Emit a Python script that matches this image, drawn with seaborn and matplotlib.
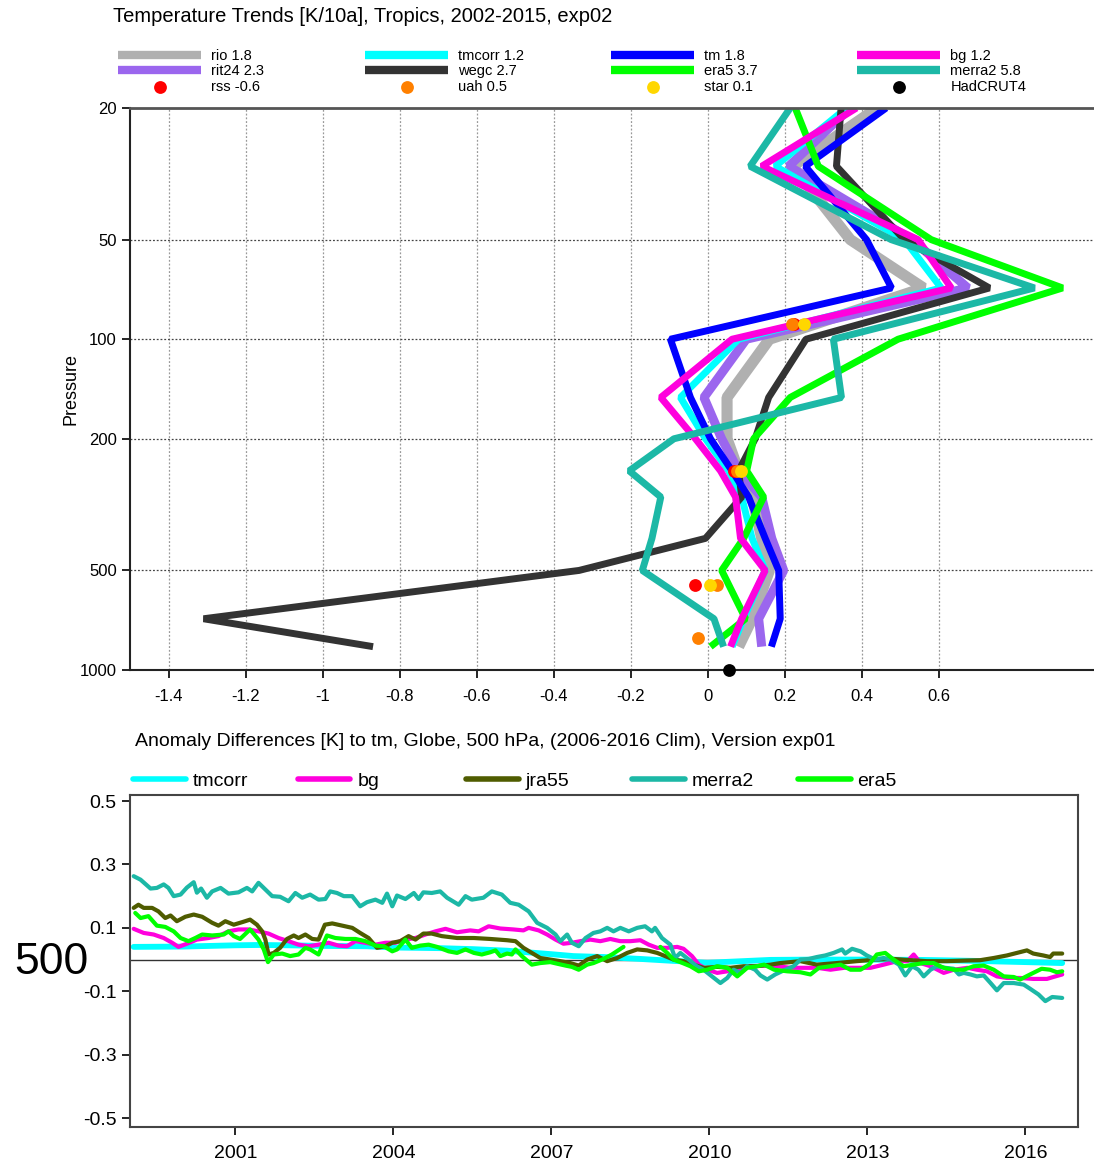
import numpy as np
import pandas as pd
import matplotlib
matplotlib.use("Agg")
import matplotlib.pyplot as plt
import seaborn as sns

# top panel: trend profiles [K/10a] on pressure levels
levels = [20, 30, 50, 70, 100, 150, 200, 250, 300, 400, 500, 700, 850]
rio = [0.44, 0.22, 0.37, 0.56, 0.16, 0.05, 0.05, 0.08, 0.115, 0.14, 0.16, 0.115, 0.08]
rit24 = [0.37, 0.21, 0.53, 0.675, 0.10, -0.01, 0.036, 0.08, 0.14, 0.166, 0.197, 0.132, 0.14]
tmcorr = [0.36, 0.175, 0.51, 0.606, 0.08, -0.071, -0.006, 0.054, 0.088, 0.115, 0.149, 0.093, 0.063]
wegc = [0.346, 0.334, 0.51, 0.731, 0.255, 0.158, 0.123, 0.080, 0.088, -0.006, -0.334, -1.309, -0.869]
tm = [0.463, 0.253, 0.412, 0.477, -0.097, -0.045, 0.007, 0.063, 0.106, 0.149, 0.184, 0.188, 0.165]
era5 = [0.227, 0.287, 0.58, 0.921, 0.494, 0.214, 0.119, 0.101, 0.145, 0.093, 0.036, 0.098, 0.007]
bg = [0.386, 0.140, 0.546, 0.632, 0.063, -0.122, -0.032, 0.033, 0.072, 0.085, 0.149, 0.088, 0.059]
merra2 = [0.214, 0.110, 0.476, 0.848, 0.326, 0.347, -0.088, -0.204, -0.122, -0.145, -0.17, 0.016, 0.041]

# satellite / surface points
rss_p = [90, 250, 553]
rss_x = [0.225, 0.067, -0.032]
uah_p = [90, 250, 553, 800]
uah_x = [0.218, 0.075, 0.024, -0.026]
star_p = [90, 250, 553]
star_x = [0.25, 0.085, 0.005]
had_p = [1000]
had_x = [0.054]

profile_names = ["rio", "rit24", "tmcorr", "wegc", "tm", "era5", "bg", "merra2"]
profile_vals = [rio, rit24, tmcorr, wegc, tm, era5, bg, merra2]
profile_labels = ["rio 1.8", "rit24 2.3", "tmcorr 1.2", "wegc 2.7", "tm 1.8", "era5 3.7", "bg 1.2", "merra2 5.8"]
profile_colors = ["#b0b0b0", "#9b66ee", "#00ffff", "#333333", "#0000ff", "#00ff00", "#ff00dd", "#1cb8a6"]
profile_lw = [8, 6.5, 5, 5, 5, 5, 5, 5]

# bottom panel: anomaly differences at 500 hPa
t_merra2 = [1999.07, 1999.2, 1999.39, 1999.51, 1999.64, 1999.73, 1999.83, 1999.96, 2000.08, 2000.21,
            2000.27, 2000.35, 2000.46, 2000.56, 2000.72, 2000.87, 2001.06, 2001.22, 2001.32, 2001.44,
            2001.57, 2001.70, 2001.85, 2002.01, 2002.14, 2002.27, 2002.42, 2002.58, 2002.71, 2002.80,
            2002.93, 2003.06, 2003.22, 2003.37, 2003.50, 2003.66, 2003.79, 2003.88, 2003.98, 2004.07,
            2004.23, 2004.39, 2004.48, 2004.57, 2004.73, 2004.89, 2005.02, 2005.18, 2005.24, 2005.37,
            2005.49, 2005.71, 2005.87, 2006.06, 2006.22, 2006.38, 2006.57, 2006.73, 2006.92, 2007.08,
            2007.17, 2007.30, 2007.39, 2007.52, 2007.65, 2007.80, 2007.93, 2008.06, 2008.18, 2008.31,
            2008.47, 2008.63, 2008.78, 2008.91, 2008.97, 2009.10, 2009.26, 2009.35, 2009.45, 2009.61,
            2009.76, 2009.89, 2010.05, 2010.21, 2010.34, 2010.46, 2010.59, 2010.72, 2010.87, 2010.97,
            2011.10, 2011.25, 2011.44, 2011.60, 2011.73, 2011.89, 2012.04, 2012.20, 2012.36, 2012.52,
            2012.58, 2012.71, 2012.87, 2012.99, 2013.15, 2013.31, 2013.44, 2013.60, 2013.72, 2013.85,
            2013.97, 2014.07, 2014.20, 2014.32, 2014.48, 2014.64, 2014.74, 2014.83, 2014.96, 2015.08,
            2015.21, 2015.34, 2015.46, 2015.59, 2015.78, 2015.97, 2016.09, 2016.25, 2016.38, 2016.51,
            2016.70]
v_merra2 = [0.263, 0.252, 0.224, 0.226, 0.237, 0.226, 0.200, 0.205, 0.227, 0.244,
            0.211, 0.224, 0.195, 0.215, 0.226, 0.208, 0.212, 0.226, 0.215, 0.242,
            0.221, 0.200, 0.198, 0.184, 0.210, 0.195, 0.205, 0.189, 0.191, 0.215,
            0.210, 0.200, 0.200, 0.168, 0.181, 0.189, 0.179, 0.208, 0.168, 0.202,
            0.191, 0.210, 0.191, 0.212, 0.210, 0.215, 0.195, 0.179, 0.173, 0.200,
            0.189, 0.195, 0.215, 0.205, 0.179, 0.173, 0.152, 0.116, 0.100, 0.079,
            0.058, 0.079, 0.053, 0.042, 0.068, 0.084, 0.089, 0.100, 0.089, 0.100,
            0.089, 0.100, 0.105, 0.089, 0.100, 0.068, 0.047, 0.005, 0.021, 0.000,
            -0.021, -0.032, -0.053, -0.074, -0.058, -0.032, -0.042, -0.021, -0.032, -0.050,
            -0.063, -0.047, -0.032, -0.021, 0.000, 0.002, 0.008, 0.013, 0.021, 0.032,
            0.019, 0.034, 0.026, 0.013, 0.000, 0.005, 0.000, -0.016, -0.050, -0.021,
            -0.032, -0.053, -0.032, -0.021, -0.026, -0.029, -0.047, -0.042, -0.047, -0.053,
            -0.050, -0.074, -0.097, -0.074, -0.074, -0.079, -0.092, -0.110, -0.131, -0.118,
            -0.121]

t_bg = [1999.07, 1999.26, 1999.45, 1999.64, 1999.80, 1999.92, 2000.08, 2000.27, 2000.49, 2000.68,
        2000.87, 2001.06, 2001.25, 2001.44, 2001.63, 2001.82, 2002.01, 2002.20, 2002.39, 2002.58,
        2002.77, 2002.96, 2003.12, 2003.28, 2003.47, 2003.66, 2003.85, 2004.04, 2004.23, 2004.42,
        2004.61, 2004.80, 2004.99, 2005.21, 2005.46, 2005.62, 2005.81, 2006.03, 2006.28, 2006.47,
        2006.57, 2006.76, 2006.92, 2007.08, 2007.23, 2007.39, 2007.55, 2007.74, 2007.93, 2008.12,
        2008.31, 2008.50, 2008.69, 2008.85, 2009.01, 2009.20, 2009.39, 2009.51, 2009.67, 2009.80,
        2009.96, 2010.15, 2010.34, 2010.53, 2010.78, 2011.04, 2011.29, 2011.54, 2011.80, 2012.05,
        2012.30, 2012.56, 2012.81, 2013.06, 2013.31, 2013.57, 2013.76, 2013.88, 2014.01, 2014.20,
        2014.45, 2014.64, 2014.90, 2015.08, 2015.27, 2015.46, 2015.65, 2015.90, 2016.15, 2016.41,
        2016.53, 2016.70]
v_bg = [0.097, 0.084, 0.079, 0.068, 0.053, 0.040, 0.050, 0.063, 0.068, 0.074,
        0.089, 0.095, 0.095, 0.089, 0.082, 0.068, 0.058, 0.047, 0.042, 0.047,
        0.053, 0.044, 0.042, 0.058, 0.053, 0.047, 0.053, 0.053, 0.063, 0.068,
        0.079, 0.089, 0.097, 0.086, 0.092, 0.089, 0.105, 0.098, 0.095, 0.092,
        0.100, 0.092, 0.079, 0.063, 0.050, 0.053, 0.058, 0.063, 0.058, 0.065,
        0.058, 0.058, 0.061, 0.047, 0.037, 0.037, 0.040, 0.034, 0.011, -0.016,
        -0.032, -0.042, -0.037, -0.032, -0.021, -0.019, -0.021, -0.026, -0.026, -0.026,
        -0.032, -0.026, -0.026, -0.026, -0.016, -0.005, -0.005, 0.016, -0.011, -0.021,
        -0.042, -0.032, -0.026, -0.032, -0.037, -0.053, -0.058, -0.058, -0.061, -0.061,
        -0.055, -0.047]

t_tmcorr = [1999.07, 2000.0, 2001.0, 2001.44, 2002.0, 2002.71, 2003.5, 2004.0, 2004.89, 2005.5,
            2006.16, 2007.0, 2007.42, 2008.0, 2008.69, 2009.3, 2009.96, 2010.5, 2011.16, 2012.0,
            2013.0, 2014.0, 2015.0, 2016.0, 2016.70]
v_tmcorr = [0.040, 0.041, 0.045, 0.046, 0.045, 0.043, 0.042, 0.038, 0.036, 0.033,
            0.028, 0.017, 0.011, 0.008, 0.002, -0.004, -0.010, -0.006, -0.001, 0.000,
            0.000, -0.001, -0.004, -0.008, -0.011]

t_jra55 = [1999.07, 1999.16, 1999.26, 1999.42, 1999.54, 1999.67, 1999.77, 1999.89, 2000.05, 2000.21,
           2000.37, 2000.56, 2000.68, 2000.81, 2000.97, 2001.13, 2001.28, 2001.41, 2001.51, 2001.57,
           2001.63, 2001.73, 2001.85, 2001.98, 2002.11, 2002.20, 2002.33, 2002.46, 2002.58, 2002.70,
           2002.84, 2003.03, 2003.22, 2003.37, 2003.53, 2003.69, 2003.85, 2003.98, 2004.13, 2004.29,
           2004.42, 2004.57, 2004.73, 2004.92, 2005.21, 2005.53, 2005.84, 2006.16, 2006.32, 2006.47,
           2006.63, 2006.79, 2006.98, 2007.17, 2007.36, 2007.52, 2007.68, 2007.87, 2008.06, 2008.25,
           2008.44, 2008.63, 2008.82, 2009.01, 2009.16, 2009.32, 2009.51, 2009.70, 2009.89, 2010.15,
           2010.40, 2010.65, 2010.90, 2011.16, 2011.35, 2011.73, 2012.04, 2012.42, 2012.80, 2013.18,
           2013.50, 2013.82, 2014.13, 2014.51, 2014.89, 2015.14, 2015.40, 2015.65, 2015.84, 2016.03,
           2016.15, 2016.34, 2016.47, 2016.53, 2016.70]
v_jra55 = [0.163, 0.173, 0.163, 0.163, 0.152, 0.131, 0.139, 0.121, 0.135, 0.142,
           0.135, 0.116, 0.107, 0.121, 0.110, 0.118, 0.126, 0.110, 0.089, 0.063,
           0.016, 0.021, 0.037, 0.065, 0.076, 0.068, 0.079, 0.065, 0.063, 0.110,
           0.114, 0.107, 0.100, 0.084, 0.068, 0.037, 0.042, 0.053, 0.058, 0.074,
           0.063, 0.082, 0.082, 0.074, 0.068, 0.068, 0.065, 0.061, 0.058, 0.037,
           0.021, 0.005, 0.000, -0.005, -0.011, -0.019, 0.000, 0.011, -0.005, 0.005,
           0.021, 0.032, 0.029, 0.021, 0.011, 0.000, -0.005, -0.016, -0.026, -0.023,
           -0.026, -0.021, -0.021, -0.016, -0.011, -0.005, -0.016, -0.011, -0.005, 0.000,
           0.002, -0.002, -0.005, -0.005, -0.003, -0.002, 0.005, 0.013, 0.021, 0.029,
           0.019, 0.013, 0.008, 0.019, 0.019]

# era5 has a data gap in 2008/2009, kept as two pieces
t_era5_a = [1999.10, 1999.20, 1999.35, 1999.51, 1999.67, 1999.83, 1999.96, 2000.11, 2000.24, 2000.37,
            2000.56, 2000.78, 2000.87, 2000.97, 2001.09, 2001.28, 2001.44, 2001.54, 2001.62, 2001.73,
            2001.89, 2002.04, 2002.20, 2002.33, 2002.42, 2002.58, 2002.74, 2002.90, 2003.09, 2003.28,
            2003.47, 2003.66, 2003.82, 2003.98, 2004.07, 2004.23, 2004.35, 2004.51, 2004.67, 2004.83,
            2005.05, 2005.21, 2005.37, 2005.53, 2005.68, 2005.84, 2005.94, 2006.03, 2006.16, 2006.25,
            2006.32, 2006.44, 2006.63, 2006.79, 2006.98, 2007.11, 2007.27, 2007.39, 2007.52, 2007.68,
            2007.80, 2007.99, 2008.15, 2008.37]
v_era5_a = [0.147, 0.131, 0.137, 0.107, 0.103, 0.089, 0.068, 0.058, 0.068, 0.079,
            0.076, 0.079, 0.089, 0.074, 0.065, 0.095, 0.063, 0.032, -0.008, 0.016,
            0.019, 0.011, 0.016, 0.037, 0.032, 0.016, 0.076, 0.068, 0.065, 0.065,
            0.058, 0.044, 0.042, 0.026, 0.032, 0.063, 0.037, 0.044, 0.047, 0.040,
            0.026, 0.021, 0.032, 0.021, 0.016, 0.023, 0.029, 0.011, 0.019, 0.016,
            0.032, 0.011, -0.016, -0.011, -0.008, -0.013, -0.019, -0.023, -0.032, -0.016,
            -0.011, 0.002, 0.016, 0.040]
t_era5_b = [2009.07, 2009.20, 2009.32, 2009.45, 2009.64, 2009.80, 2009.96, 2010.15, 2010.34, 2010.53,
            2010.72, 2010.90, 2011.04, 2011.23, 2011.48, 2011.73, 2011.92, 2012.08, 2012.30, 2012.49,
            2012.68, 2012.87, 2013.03, 2013.18, 2013.34, 2013.50, 2013.69, 2013.88, 2014.07, 2014.26,
            2014.45, 2014.64, 2014.83, 2015.02, 2015.21, 2015.40, 2015.59, 2015.78, 2015.90, 2016.09,
            2016.31, 2016.47, 2016.60, 2016.70]
v_era5_b = [0.040, 0.021, 0.000, -0.008, -0.021, -0.037, -0.032, -0.021, -0.026, -0.053,
            -0.026, -0.021, -0.016, -0.032, -0.037, -0.040, -0.047, -0.026, -0.021, -0.016,
            -0.032, -0.032, -0.016, 0.016, 0.021, 0.000, -0.021, -0.016, -0.011, -0.011,
            -0.026, -0.032, -0.032, -0.021, -0.019, -0.032, -0.053, -0.055, -0.063, -0.047,
            -0.029, -0.032, -0.040, -0.037]

sns.set_style("ticks")
plt.rcParams["font.family"] = ["Liberation Sans", "DejaVu Sans"]
plt.rcParams["text.color"] = "black"
plt.rcParams["axes.labelcolor"] = "black"
plt.rcParams["xtick.color"] = "black"
plt.rcParams["ytick.color"] = "black"

fig = plt.figure(figsize=(10.94, 11.68), dpi=100)

# ---------- top panel ----------
ax = fig.add_axes([130 / 1094, 1 - 670 / 1168, 963 / 1094, 562 / 1168])
for name, vals, lab, col, lw in zip(profile_names, profile_vals, profile_labels, profile_colors, profile_lw):
    df = pd.DataFrame({"trend": vals, "p": levels})
    sns.lineplot(data=df, x="trend", y="p", sort=False, estimator=None, orient="y",
                 color=col, lw=lw, label=lab, ax=ax, solid_joinstyle="bevel", solid_capstyle="butt")

for xs, ps, col, lab in [(rss_x, rss_p, "#ff0000", "rss -0.6"),
                         (uah_x, uah_p, "#ff8000", "uah 0.5"),
                         (star_x, star_p, "#ffd700", "star 0.1"),
                         (had_x, had_p, "#000000", "HadCRUT4")]:
    sns.scatterplot(x=xs, y=ps, color=col, s=85, linewidth=0, label=lab, ax=ax, zorder=5, clip_on=False)

ax.set_yscale("log")
ax.set_ylim(1000, 20)
ax.set_xlim(-1.5, 1.0)
ax.set_yticks([20, 50, 100, 200, 500, 1000])
ax.set_yticklabels(["20", "50", "100", "200", "500", "1000"])
ax.yaxis.set_minor_locator(matplotlib.ticker.NullLocator())
xt = [-1.4, -1.2, -1.0, -0.8, -0.6, -0.4, -0.2, 0.0, 0.2, 0.4, 0.6]
ax.set_xticks(xt)
ax.set_xticklabels(["-1.4", "-1.2", "-1", "-0.8", "-0.6", "-0.4", "-0.2", "0", "0.2", "0.4", "0.6"])
ax.tick_params(axis="both", labelsize=12, length=6, width=1.2, direction="out", color="black")
ax.tick_params(axis="x", pad=8)
ax.set_xlabel("")
ax.set_ylabel("Pressure", fontsize=13, labelpad=0)
for x in xt:
    ax.axvline(x, color="#999999", lw=0.9, ls=(0, (1.5, 1.5)), zorder=0)
for p in [50, 100, 200, 500]:
    ax.axhline(p, color="#444444", lw=0.9, ls=(0, (1.5, 1.5)), zorder=0)
ax.spines["right"].set_visible(False)
ax.spines["top"].set_color("#555555")
ax.spines["top"].set_linewidth(2)
ax.spines["left"].set_color("#222222")
ax.spines["left"].set_linewidth(1.5)
ax.spines["bottom"].set_color("#222222")
ax.spines["bottom"].set_linewidth(1.5)

handles, labels = ax.get_legend_handles_labels()
hmap = dict(zip(labels, handles))
if ax.get_legend() is not None:
    ax.get_legend().remove()

top_cols = [["rio 1.8", "rit24 2.3", "rss -0.6"],
            ["tmcorr 1.2", "wegc 2.7", "uah 0.5"],
            ["tm 1.8", "era5 3.7", "star 0.1"],
            ["bg 1.2", "merra2 5.8", "HadCRUT4"]]
top_x = [118, 365, 611, 857]
for labs, x0 in zip(top_cols, top_x):
    leg = fig.legend([hmap[l] for l in labs], labs, loc="upper left",
                     bbox_to_anchor=(x0 / 1094, 1 - 49 / 1168), frameon=False,
                     fontsize=10.5, handlelength=5.7, handletextpad=0.7,
                     labelspacing=0.1, borderpad=0, borderaxespad=0, markerscale=1.0)
    for h in leg.legend_handles:
        if isinstance(h, matplotlib.lines.Line2D):
            h.set_linewidth(6)

fig.text(113 / 1094, 1 - 17 / 1168, "Temperature Trends [K/10a], Tropics, 2002-2015, exp02",
         fontsize=14.5, va="center", ha="left")

# ---------- bottom panel ----------
ax2 = fig.add_axes([130 / 1094, 1 - 1127 / 1168, 948 / 1094, 332 / 1168])
series = [("tmcorr", t_tmcorr, v_tmcorr, "#00ffff", 4.2),
          ("bg", t_bg, v_bg, "#ff00dd", 3.0),
          ("jra55", t_jra55, v_jra55, "#4f5c00", 3.0),
          ("merra2", t_merra2, v_merra2, "#1cb8a6", 3.0)]
for lab, t, v, col, lw in series:
    sns.lineplot(x=t, y=v, color=col, lw=lw, label=lab, ax=ax2, estimator=None)
sns.lineplot(x=t_era5_a, y=v_era5_a, color="#00ff00", lw=3.0, label="era5", ax=ax2, estimator=None)
sns.lineplot(x=t_era5_b, y=v_era5_b, color="#00ff00", lw=3.0, ax=ax2, estimator=None)
ax2.axhline(0, color="#333333", lw=1.0, zorder=0)

ax2.set_xlim(1999.0, 2017.0)
ax2.set_ylim(-0.528, 0.519)
yt = [0.5, 0.3, 0.1, -0.1, -0.3, -0.5]
ax2.set_yticks(yt)
ax2.set_yticklabels(["0.5", "0.3", "0.1", "-0.1", "-0.3", "-0.5"])
ax2.set_xticks([2001, 2004, 2007, 2010, 2013, 2016])
ax2.set_xticklabels(["2001", "2004", "2007", "2010", "2013", "2016"])
ax2.tick_params(axis="both", labelsize=14, length=6, width=1.2, direction="out", color="black")
ax2.tick_params(axis="x", pad=7)
for s in ax2.spines.values():
    s.set_color("#444444")
    s.set_linewidth(1.5)

h2, l2 = ax2.get_legend_handles_labels()
hmap2 = dict(zip(l2, h2))
if ax2.get_legend() is not None:
    ax2.get_legend().remove()
bot_x = [133, 298, 466, 632, 798]
for lab, x0 in zip(["tmcorr", "bg", "jra55", "merra2", "era5"], bot_x):
    leg = fig.legend([hmap2[lab]], [lab], loc="upper left",
                     bbox_to_anchor=(x0 / 1094, 1 - 772 / 1168), frameon=False,
                     fontsize=14, handlelength=2.7, handletextpad=0.35,
                     borderpad=0, borderaxespad=0)
    for h in leg.legend_handles:
        h.set_linewidth(4)

fig.text(135 / 1094, 1 - 742 / 1168,
         "Anomaly Differences [K] to tm, Globe, 500 hPa, (2006-2016 Clim), Version exp01",
         fontsize=14, va="center", ha="left")
fig.text(51 / 1094, 1 - 963 / 1168, "500", fontsize=32, va="center", ha="center")

fig.savefig("out.png", dpi=100)
